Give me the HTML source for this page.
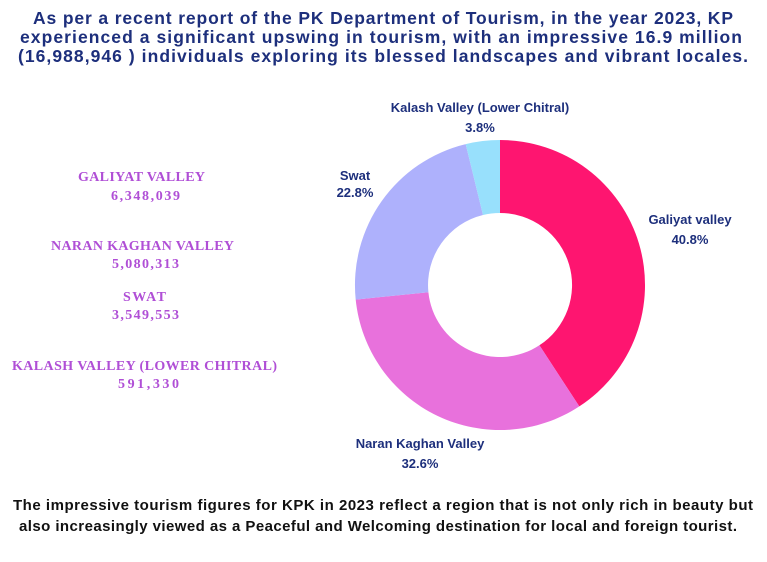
<!DOCTYPE html>
<html><head><meta charset="utf-8"><style>
body{margin:0;width:767px;height:562px;background:#fff;overflow:hidden;font-family:"Liberation Sans",sans-serif;}
svg{position:absolute;left:0;top:0}
</style></head><body>
<svg width="767" height="562" viewBox="0 0 767 562">
<g font-family="Liberation Sans, sans-serif" font-weight="bold" fill="#1d2f7c" font-size="17.5">
<text x="33" y="24" textLength="700" lengthAdjust="spacing">As per a recent report of the PK Department of Tourism, in the year 2023, KP</text>
<text x="20" y="43" textLength="722" lengthAdjust="spacing">experienced a significant upswing in tourism, with an impressive 16.9 million</text>
<text x="18" y="62" textLength="730" lengthAdjust="spacing">(16,988,946 ) individuals exploring its blessed landscapes and vibrant locales.</text>
</g>
<path d="M500,140 A145,145 0 0 1 579.3,406.4 L539.4,345.3 A72,72 0 0 0 500,213 Z" fill="#FE1570"/>
<path d="M579.3,406.4 A145,145 0 0 1 355.7,299.6 L428.4,292.2 A72,72 0 0 0 539.4,345.3 Z" fill="#E871DC"/>
<path d="M355.7,299.6 A145,145 0 0 1 465.7,144.1 L483,215 A72,72 0 0 0 428.4,292.2 Z" fill="#AEB1FC"/>
<path d="M465.7,144.1 A145,145 0 0 1 500,140 L500,213 A72,72 0 0 0 483,215 Z" fill="#98E0FC"/>
<g font-family="Liberation Sans, sans-serif" font-weight="bold" fill="#1d2f7c" font-size="13" text-anchor="middle">
<text x="480" y="112">Kalash Valley (Lower Chitral)</text>
<text x="480" y="132">3.8%</text>
<text x="355" y="180">Swat</text>
<text x="355" y="197">22.8%</text>
<text x="690" y="224">Galiyat valley</text>
<text x="690" y="244">40.8%</text>
<text x="420" y="448">Naran Kaghan Valley</text>
<text x="420" y="468">32.6%</text>
</g>
<g font-family="Liberation Serif, serif" font-weight="bold" fill="#b04fd6" font-size="14">
<text x="78" y="181" textLength="127" lengthAdjust="spacing">GALIYAT VALLEY</text>
<text x="111" y="200" textLength="69" lengthAdjust="spacing">6,348,039</text>
<text x="51" y="250" textLength="183" lengthAdjust="spacing">NARAN KAGHAN VALLEY</text>
<text x="112" y="268" textLength="67" lengthAdjust="spacing">5,080,313</text>
<text x="123" y="301" textLength="43" lengthAdjust="spacing">SWAT</text>
<text x="112" y="319" textLength="67" lengthAdjust="spacing">3,549,553</text>
<text x="12" y="370" textLength="265" lengthAdjust="spacing">KALASH VALLEY (LOWER CHITRAL)</text>
<text x="118" y="388" textLength="61" lengthAdjust="spacing">591,330</text>
</g>
<g font-family="Liberation Sans, sans-serif" font-weight="bold" fill="#111" font-size="15">
<text x="13" y="510" textLength="740" lengthAdjust="spacing">The impressive tourism figures for KPK in 2023 reflect a region that is not only rich in beauty but</text>
<text x="19" y="531" textLength="718" lengthAdjust="spacing">also increasingly viewed as a Peaceful and Welcoming destination for local and foreign tourist.</text>
</g>
</svg>
</body></html>
